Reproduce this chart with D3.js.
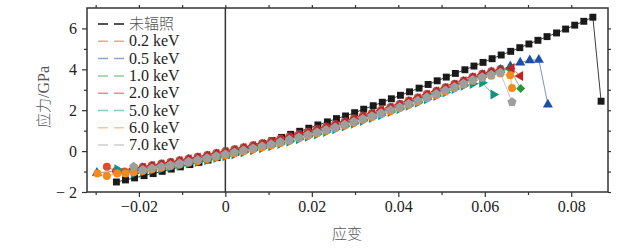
<!DOCTYPE html>
<html>
<head>
<meta charset="utf-8">
<script src="https://cdn.jsdelivr.net/npm/d3@7"></script>
<style>body{margin:0;background:#fff}</style>
</head>
<body>
<script>
// ---- data ----
const seriesNames = ["未辐照", "0.2 keV", "0.5 keV", "1.0 keV", "2.0 keV", "5.0 keV", "6.0 keV", "7.0 keV"];
const seriesColors = ["#1a1a1a", "#df4b2c", "#1d4fa6", "#1f9a3f", "#c8201f", "#17917f", "#f48a1f", "#9e9e9e"];

const xTicks = [-0.02, 0, 0.02, 0.04, 0.06, 0.08];
const xTickLabels = ["\u22120.02", "0", "0.02", "0.04", "0.06", "0.08"];
const xMinor = [-0.03, -0.01, 0.01, 0.03, 0.05, 0.07];
const yTicks = [-2, 0, 2, 4, 6];
const yTickLabels = ["\u2212 2", "0", "2", "4", "6"];
const yMinor = [-1, 1, 3, 5];

// 未辐照
const strainRaw = [-0.0252,-0.0231,-0.0210,-0.0188,-0.0167,-0.0146,-0.0125,-0.0104,-0.0082,-0.0061,
  -0.0040,-0.0019,0.0002,0.0024,0.0045,0.0066,0.0087,0.0108,0.0130,0.0151,
  0.0172,0.0193,0.0214,0.0236,0.0257,0.0278,0.0299,0.0320,0.0342,0.0363,
  0.0384,0.0405,0.0426,0.0448,0.0469,0.0490,0.0511,0.0532,0.0554,0.0575,
  0.0596,0.0617,0.0638,0.0660,0.0681,0.0702,0.0723,0.0744,0.0766,0.0787,
  0.0808,0.0829,0.0850,0.0869];
const stressRaw = [-1.51,-1.41,-1.31,-1.20,-1.10,-0.99,-0.88,-0.77,-0.66,-0.55,
  -0.44,-0.32,-0.20,-0.06,0.08,0.22,0.37,0.52,0.67,0.82,
  0.97,1.12,1.28,1.43,1.59,1.72,1.88,2.05,2.22,2.39,
  2.56,2.73,2.90,3.08,3.26,3.44,3.62,3.80,3.98,4.16,
  4.34,4.52,4.70,4.88,5.06,5.24,5.42,5.60,5.78,5.97,
  6.16,6.35,6.55,2.44];

// common strain steps of the irradiated runs
const strainGrid = [-0.0212,-0.0191,-0.0170,-0.0148,-0.0127,-0.0106,-0.0085,-0.0064,-0.0042,-0.0021,
  0.0000,
  0.0021,0.0042,0.0064,0.0085,0.0106,0.0127,0.0148,0.0170,0.0191,0.0212,
  0.0233,0.0254,0.0276,0.0297,0.0318,0.0339,0.0360,0.0382,0.0403,0.0424,
  0.0445,0.0466,0.0488,0.0509,0.0530,0.0551,0.0572,0.0594,0.0615,0.0636];

const strain02 = [-0.0274, -0.0253, -0.0233, ...strainGrid];
const stress02 = [-0.77, -0.97, -1.00,
  -0.84,-0.77,-0.69,-0.61,-0.53,-0.45,-0.36,-0.28,-0.19,-0.09,
  0.00,
  0.09,0.19,0.29,0.39,0.49,0.60,0.71,0.83,0.95,1.07,
  1.19,1.32,1.45,1.59,1.73,1.87,2.01,2.16,2.31,2.47,
  2.62,2.79,2.95,3.12,3.29,3.46,3.64,3.78,3.91,4.02];

const strain05 = [-0.0297, ...strainGrid, 0.0659, 0.0682, 0.0704, 0.0725, 0.0746];
const stress05 = [-1.06,
  -0.91,-0.84,-0.76,-0.68,-0.60,-0.52,-0.43,-0.35,-0.26,-0.16,
  -0.07,
  0.02,0.12,0.22,0.32,0.42,0.53,0.64,0.76,0.88,1.00,
  1.12,1.25,1.38,1.52,1.66,1.80,1.94,2.09,2.24,2.40,
  2.55,2.72,2.88,3.05,3.22,3.39,3.57,3.72,3.86,3.98,
  4.15, 4.33, 4.44, 4.47, 2.28];

const strain10 = [...strainGrid, 0.0658, 0.0683];
const stress10 = [-0.95,-0.88,-0.80,-0.72,-0.64,-0.56,-0.47,-0.39,-0.30,-0.20,
  -0.11,
  -0.02,0.08,0.18,0.28,0.38,0.49,0.60,0.72,0.84,0.96,
  1.08,1.21,1.34,1.48,1.62,1.76,1.90,2.05,2.20,2.36,
  2.51,2.68,2.84,3.01,3.18,3.35,3.53,3.66,3.80,3.90,
  4.02, 3.06];

const strain20 = [...strainGrid, 0.0662, 0.0682];
const stress20 = [-0.88,-0.81,-0.73,-0.65,-0.57,-0.49,-0.40,-0.32,-0.23,-0.13,
  -0.04,
  0.05,0.15,0.25,0.35,0.45,0.56,0.67,0.79,0.91,1.03,
  1.15,1.28,1.41,1.55,1.69,1.83,1.97,2.12,2.27,2.43,
  2.58,2.75,2.91,3.08,3.25,3.42,3.60,3.74,3.86,3.96,
  4.06, 3.67];

const strain50 = [-0.0250, ...strainGrid.slice(0, 39), 0.0620];
const stress50 = [-0.89,
  -1.09,-1.02,-0.94,-0.86,-0.78,-0.70,-0.61,-0.53,-0.44,-0.34,
  -0.25,
  -0.16,-0.06,0.04,0.14,0.24,0.35,0.46,0.58,0.70,0.82,
  0.94,1.07,1.20,1.34,1.48,1.62,1.76,1.91,2.06,2.22,
  2.37,2.54,2.70,2.87,3.04,3.20,3.29,3.34,
  2.77];

const strain60 = [-0.0296, -0.0274, -0.0250, -0.0231, ...strainGrid, 0.0659, 0.0663];
const stress60 = [-1.09, -1.22, -1.09, -1.09,
  -1.04,-0.97,-0.89,-0.81,-0.73,-0.65,-0.56,-0.48,-0.39,-0.29,
  -0.20,
  -0.11,-0.01,0.09,0.19,0.29,0.40,0.51,0.63,0.75,0.87,
  0.99,1.12,1.25,1.39,1.53,1.67,1.81,1.96,2.11,2.27,
  2.42,2.59,2.75,2.92,3.09,3.26,3.44,3.57,3.69,3.80,
  3.71, 3.09];

const strain70 = [...strainGrid, 0.0663];
const stress70 = [-0.76,-0.92,-0.84,-0.76,-0.68,-0.60,-0.51,-0.43,-0.34,-0.24,
  -0.15,
  -0.06,0.04,0.14,0.24,0.34,0.45,0.56,0.68,0.80,0.92,
  1.04,1.17,1.30,1.44,1.58,1.72,1.86,2.01,2.16,2.32,
  2.47,2.64,2.80,2.97,3.14,3.31,3.49,3.62,3.74,3.84,
  2.40];

// ---- drawing ----
const svg = d3.select("body").append("svg")
    .attr("width", 636)
    .attr("height", 252);

const x = d3.scaleLinear().domain([-0.032, 0.0885]).range([87, 608]);
const y = d3.scaleLinear().domain([-2, 7]).range([192, 8]);

const serif = '"Liberation Serif"';
const cjk = '"Noto Sans CJK SC"';

function pentagon(r) {
    let p = d3.path();
    for (let i = 0; i < 5; i++) {
        let a = -Math.PI / 2 + i * 2 * Math.PI / 5;
        if (i == 0) p.moveTo(r * Math.cos(a), r * Math.sin(a));
        else p.lineTo(r * Math.cos(a), r * Math.sin(a));
    }
    p.closePath();
    return p.toString();
}

const shapes = [
    {d: d3.symbol(d3.symbolSquare, 48)(), rot: 0},
    {d: d3.symbol(d3.symbolCircle, 50)(), rot: 0},
    {d: d3.symbol(d3.symbolTriangle, 44)(), rot: 0},
    {d: d3.symbol(d3.symbolSquare, 40)(), rot: 45},
    {d: d3.symbol(d3.symbolTriangle, 44)(), rot: -90},
    {d: d3.symbol(d3.symbolTriangle, 44)(), rot: 90},
    {d: d3.symbol(d3.symbolCircle, 50)(), rot: 0},
    {d: pentagon(4.8), rot: 0}
];

const strains = [strainRaw, strain02, strain05, strain10, strain20, strain50, strain60, strain70];
const stresses = [stressRaw, stress02, stress05, stress10, stress20, stress50, stress60, stress70];

const series = seriesNames.map((name, i) => ({
    name: name,
    color: seriesColors[i],
    shape: shapes[i],
    points: strains[i].map((s, j) => [s, stresses[i][j]])
}));

// zero strain line
svg.append("line")
    .attr("x1", x(0)).attr("x2", x(0))
    .attr("y1", y(7)).attr("y2", y(-2))
    .attr("stroke", "#333").attr("stroke-width", 1.5);

const line = d3.line().x(d => x(d[0])).y(d => y(d[1]));

series.forEach((s, i) => {
    let g = svg.append("g");
    g.append("path")
        .attr("d", line(s.points))
        .attr("fill", "none")
        .attr("stroke", s.color)
        .attr("stroke-opacity", i == 0 ? 0.85 : 0.6)
        .attr("stroke-width", 1);
    g.selectAll("path.m")
        .data(s.points)
        .enter()
        .append("path")
        .attr("class", "m")
        .attr("d", s.shape.d)
        .attr("transform", d => `translate(${x(d[0])},${y(d[1])}) rotate(${s.shape.rot})`)
        .attr("fill", s.color);
});

// axes
function styleAxis(g) {
    g.select(".domain").remove();
    g.selectAll("line").attr("stroke", "#333").attr("stroke-width", 1.2);
    g.selectAll("text")
        .style("font-family", serif)
        .style("font-size", "16px")
        .attr("fill", "#222");
}

svg.append("g")
    .attr("transform", "translate(0,192)")
    .call(d3.axisBottom(x).tickValues(xTicks).tickSize(5).tickPadding(4)
        .tickFormat((d, i) => xTickLabels[i]))
    .call(styleAxis);
svg.append("g")
    .attr("transform", "translate(0,192)")
    .call(d3.axisBottom(x).tickValues(xMinor).tickSize(3).tickFormat(""))
    .call(styleAxis);
svg.append("g")
    .attr("transform", "translate(0,8)")
    .call(d3.axisTop(x).tickValues(xTicks.concat(xMinor)).tickSize(3).tickFormat(""))
    .call(styleAxis);

svg.append("g")
    .attr("transform", "translate(87,0)")
    .call(d3.axisLeft(y).tickValues(yTicks).tickSize(5).tickPadding(5)
        .tickFormat((d, i) => yTickLabels[i]))
    .call(styleAxis);
svg.append("g")
    .attr("transform", "translate(87,0)")
    .call(d3.axisLeft(y).tickValues(yMinor).tickSize(3).tickFormat(""))
    .call(styleAxis);
svg.append("g")
    .attr("transform", "translate(608,0)")
    .call(d3.axisRight(y).tickValues(yTicks.concat(yMinor)).tickSize(3).tickFormat(""))
    .call(styleAxis);

// frame
svg.append("rect")
    .attr("x", 87).attr("y", 8)
    .attr("width", 608 - 87).attr("height", 192 - 8)
    .attr("fill", "none")
    .attr("stroke", "#333")
    .attr("stroke-width", 1.5);

// axis titles
let yTitle = svg.append("text")
    .attr("transform", "translate(49,97) rotate(-90)")
    .attr("text-anchor", "middle")
    .style("font-size", "15px")
    .attr("fill", "#555");
yTitle.append("tspan").style("font-family", cjk).style("font-weight", 300).text("应力");
yTitle.append("tspan").style("font-family", serif).style("font-size", "16px").text("/GPa");

svg.append("text")
    .attr("x", 347).attr("y", 239)
    .attr("text-anchor", "middle")
    .style("font-family", cjk)
    .style("font-weight", 300)
    .style("font-size", "15px")
    .attr("fill", "#555")
    .text("应变");

// legend
let legend = svg.append("g");
series.forEach((s, i) => {
    let ly = 24 + i * 17.3;
    legend.append("line")
        .attr("x1", 98).attr("x2", 124)
        .attr("y1", ly).attr("y2", ly)
        .attr("stroke", s.color)
        .attr("stroke-opacity", i == 0 ? 1 : 0.5)
        .attr("stroke-width", 1.5)
        .attr("stroke-dasharray", "10,6");
    legend.append("text")
        .attr("x", 129).attr("y", ly + 5)
        .style("font-family", i == 0 ? cjk : serif)
        .style("font-weight", i == 0 ? 300 : 400)
        .style("font-size", i == 0 ? "15px" : "16px")
        .attr("fill", i == 0 ? "#555" : "#222")
        .text(s.name);
});
</script>
</body>
</html>
